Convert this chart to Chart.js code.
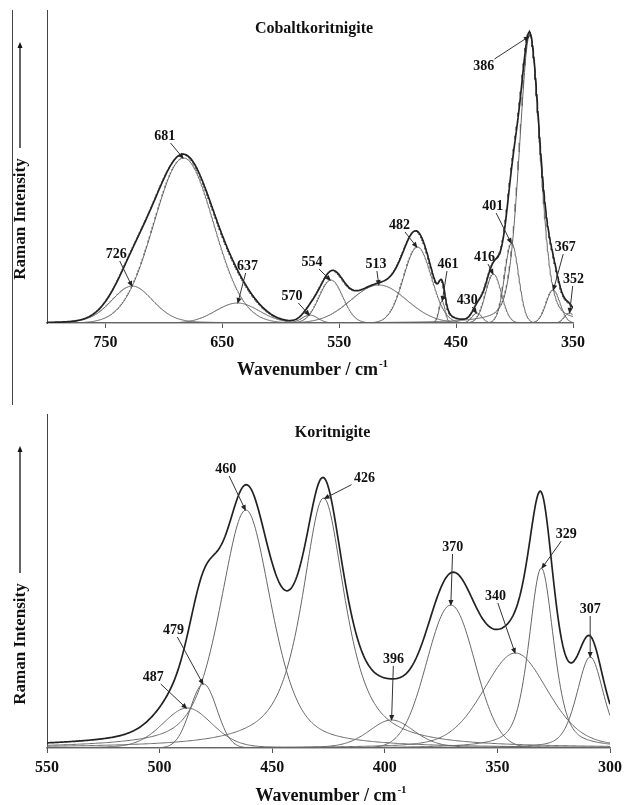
<!DOCTYPE html>
<html>
<head>
<meta charset="utf-8">
<title>Raman spectra - Cobaltkoritnigite / Koritnigite</title>
<script src="https://cdn.jsdelivr.net/npm/chart.js@4.4.1/dist/chart.umd.min.js"></script>
<style>
  body { margin: 0; background: #fff; }
  #wrap { position: relative; width: 627px; height: 805px; overflow: hidden; }
  canvas { position: absolute; left: 0; }
  #top { top: 0; }
  #bottom { top: 400px; }
  #frame { position: absolute; left: 12px; top: 10px; width: 1px; height: 395px; background: #444; }
</style>
</head>
<body>
<div id="wrap">
  <div id="frame"></div>
  <canvas id="top" width="627" height="400"></canvas>
  <canvas id="bottom" width="627" height="405"></canvas>
</div>
<script>
// Cobaltkoritnigite - fitted bands (centre cm-1, height, half width, lorentz share)
var cobaltLabels  = ['726', '681', '637', '570', '554', '513', '482', '461', '430', '416', '401', '386', '367', '352'];
var cobaltCentres = [727, 683, 637, 575, 557, 516, 483, 462, 432, 418, 402.5, 387, 367, 353];
var cobaltHeights = [37, 165, 20, 8, 43, 38, 76, 22, 10, 49, 80, 288, 33, 10];
var cobaltWidths  = [21, 30, 22, 8, 12, 28, 14, 3, 5, 8, 7, 10.5, 7, 5];
var cobaltShape   = [0.2, 0, 0, 0, 0, 0, 0, 0, 0, 0, 0, 0.3, 0, 0];
var cobaltTicks   = [750, 650, 550, 450, 350];

// Koritnigite
var koritLabels  = ['487', '479', '460', '426', '396', '370', '340', '329', '307'];
var koritCentres = [487.7, 480.5, 461.7, 427.2, 397, 370.7, 342, 330.5, 308.8];
var koritHeights = [40, 64, 238, 250, 28, 143, 95, 180, 91];
var koritWidths  = [13, 7, 13.5, 11.5, 12, 12.5, 17, 6.5, 7];
var koritShape   = [0.2, 0, 0.5, 0.8, 0.3, 0, 0.3, 0.5, 0.4];
var koritTicks   = [550, 500, 450, 400, 350, 300];

// where the band labels sit, relative to the arrow tip (px)
var cobaltLabelPos = [[-16, -33], [-19, -23], [10, -38], [-18, -20], [-19, -19], [-3, -22], [-18, -23],
                      [6, -38], [-10, -14], [-9, -18], [-19, -38], [-46, 30], [12, -44], [4, -35]];
var koritLabelPos  = [[-34, -32], [-30, -55], [-20, -42], [41, -21], [2, -62], [2, -59], [-20, -58], [25, -35], [0, -49]];

var SERIF = "'Liberation Serif', 'Times New Roman', serif";

// pseudo-voigt band profile
function band(x, c, h, w, eta) {
    var d = (x - c) / w;
    return h * (eta / (1 + d * d) + (1 - eta) * Math.exp(-Math.LN2 * d * d));
}

function buildDatasets(lo, hi, centres, heights, widths, shape) {
    var grid = [];
    for (var x = lo; x <= hi; x += 0.5) grid.push(x);
    var total = grid.map(function() { return 0; });
    var sets = [];
    for (var i = 0; i < centres.length; i++) {
        var pts = grid.map(function(x, k) {
            var y = band(x, centres[i], heights[i], widths[i], shape[i]);
            total[k] += y;
            return { x: x, y: y };
        });
        sets.push({ data: pts, borderColor: '#666', borderWidth: 1, pointRadius: 0 });
    }
    // envelope goes first so it is drawn on top
    sets.unshift({
        data: grid.map(function(x, k) { return { x: x, y: total[k] }; }),
        borderColor: '#222', borderWidth: 1.7, pointRadius: 0
    });
    return sets;
}

function drawArrow(ctx, x0, y0, x1, y1) {
    var a = Math.atan2(y1 - y0, x1 - x0);
    ctx.beginPath();
    ctx.moveTo(x0, y0);
    ctx.lineTo(x1 - 3 * Math.cos(a), y1 - 3 * Math.sin(a));
    ctx.stroke();
    ctx.beginPath();
    ctx.moveTo(x1, y1);
    ctx.lineTo(x1 - 6 * Math.cos(a) + 2.5 * Math.sin(a), y1 - 6 * Math.sin(a) - 2.5 * Math.cos(a));
    ctx.lineTo(x1 - 6 * Math.cos(a) - 2.5 * Math.sin(a), y1 - 6 * Math.sin(a) + 2.5 * Math.cos(a));
    ctx.closePath();
    ctx.fill();
}

// titles, axis captions and the band labels with arrows
var decor = {
    id: 'decor',
    afterDraw: function(chart, args, opts) {
        var ctx = chart.ctx, area = chart.chartArea;
        var xs = chart.scales.x, ys = chart.scales.y;
        ctx.save();
        ctx.fillStyle = '#111';
        ctx.strokeStyle = '#333';
        ctx.lineWidth = 1;
        ctx.textAlign = 'center';
        ctx.textBaseline = 'middle';

        // panel title
        ctx.font = 'bold 16px ' + SERIF;
        ctx.fillText(opts.title, (area.left + area.right) / 2 + 4, opts.titleY);

        // x axis caption with superscript
        var cx = (area.left + area.right) / 2 + 2, cy = opts.xTitleY;
        ctx.font = 'bold 18px ' + SERIF;
        var main = 'Wavenumber / cm';
        var wMain = ctx.measureText(main).width;
        ctx.font = 'bold 11px ' + SERIF;
        var wSup = ctx.measureText('-1').width;
        var x0 = cx - (wMain + wSup) / 2;
        ctx.textAlign = 'left';
        ctx.font = 'bold 18px ' + SERIF;
        ctx.fillText(main, x0, cy);
        ctx.font = 'bold 11px ' + SERIF;
        ctx.fillText('-1', x0 + wMain + 1, cy - 6);

        // y axis caption with arrow
        var ty = area.bottom - 104;
        ctx.save();
        ctx.translate(21, ty);
        ctx.rotate(-Math.PI / 2);
        ctx.textAlign = 'center';
        ctx.font = 'bold 17px ' + SERIF;
        ctx.fillText('Raman Intensity', 0, 0);
        ctx.restore();
        ctx.strokeStyle = '#111';
        ctx.fillStyle = '#111';
        ctx.lineWidth = 1.3;
        drawArrow(ctx, 20, ty - 71, 20, area.top + 32);

        // band labels
        ctx.lineWidth = 1;
        ctx.strokeStyle = '#333';
        ctx.textAlign = 'center';
        ctx.font = 'bold 14px ' + SERIF;
        for (var i = 0; i < opts.labels.length; i++) {
            var tx = xs.getPixelForValue(opts.centres[i]);
            var tyy = ys.getPixelForValue(opts.heights[i]) + 1;
            var lx = tx + opts.pos[i][0], ly = tyy + opts.pos[i][1];
            ctx.fillStyle = '#111';
            ctx.fillText(opts.labels[i], lx, ly);
            var dx = tx - lx, dy = tyy - ly, len = Math.sqrt(dx * dx + dy * dy);
            var ux = dx / len, uy = dy / len;
            var t = Math.min(13 / Math.max(Math.abs(ux), 1e-6), 7 / Math.max(Math.abs(uy), 1e-6));
            ctx.fillStyle = '#222';
            drawArrow(ctx, lx + ux * t, ly + uy * t, tx, tyy);
        }
        ctx.restore();
    }
};

function makeChart(id, cfg) {
    return new Chart(document.getElementById(id), {
        type: 'line',
        data: { datasets: buildDatasets(cfg.lo, cfg.hi, cfg.centres, cfg.heights, cfg.widths, cfg.shape) },
        options: {
            responsive: false,
            animation: false,
            events: [],
            layout: { padding: cfg.padding },
            scales: {
                x: {
                    type: 'linear',
                    reverse: true,
                    min: cfg.lo,
                    max: cfg.hi,
                    afterBuildTicks: function(s) { s.ticks = cfg.ticks.map(function(v) { return { value: v }; }); },
                    afterFit: function(s) { s.height = 40; },
                    grid: { drawOnChartArea: false, drawTicks: true, tickLength: 5, color: '#555' },
                    border: { color: '#777', width: 1.5 },
                    ticks: {
                        color: '#111', padding: 5, maxRotation: 0, autoSkip: false,
                        font: { family: SERIF, size: 16, weight: 'bold' }
                    }
                },
                y: {
                    min: 0,
                    max: cfg.ymax,
                    afterFit: function(s) { s.width = 0; },
                    ticks: { display: false },
                    grid: { display: false },
                    border: { color: '#444', width: 1 }
                }
            },
            plugins: {
                legend: { display: false },
                tooltip: { enabled: false },
                decor: {
                    title: cfg.title, titleY: cfg.titleY, xTitleY: cfg.xTitleY,
                    labels: cfg.labels, centres: cfg.centres, heights: cfg.heights, pos: cfg.pos
                }
            }
        },
        plugins: [decor]
    });
}

var topChart = makeChart('top', {
    lo: 350, hi: 800, ymax: 313, ticks: cobaltTicks,
    centres: cobaltCentres, heights: cobaltHeights, widths: cobaltWidths, shape: cobaltShape,
    labels: cobaltLabels, pos: cobaltLabelPos,
    title: 'Cobaltkoritnigite', titleY: 29, xTitleY: 370,
    padding: { left: 47, right: 54, top: 10, bottom: 37 }
});

var bottomChart = makeChart('bottom', {
    lo: 300, hi: 550, ymax: 334, ticks: koritTicks,
    centres: koritCentres, heights: koritHeights, widths: koritWidths, shape: koritShape,
    labels: koritLabels, pos: koritLabelPos,
    title: 'Koritnigite', titleY: 33, xTitleY: 396,
    padding: { left: 47, right: 14, top: 14, bottom: 17 }
});
</script>
</body>
</html>
